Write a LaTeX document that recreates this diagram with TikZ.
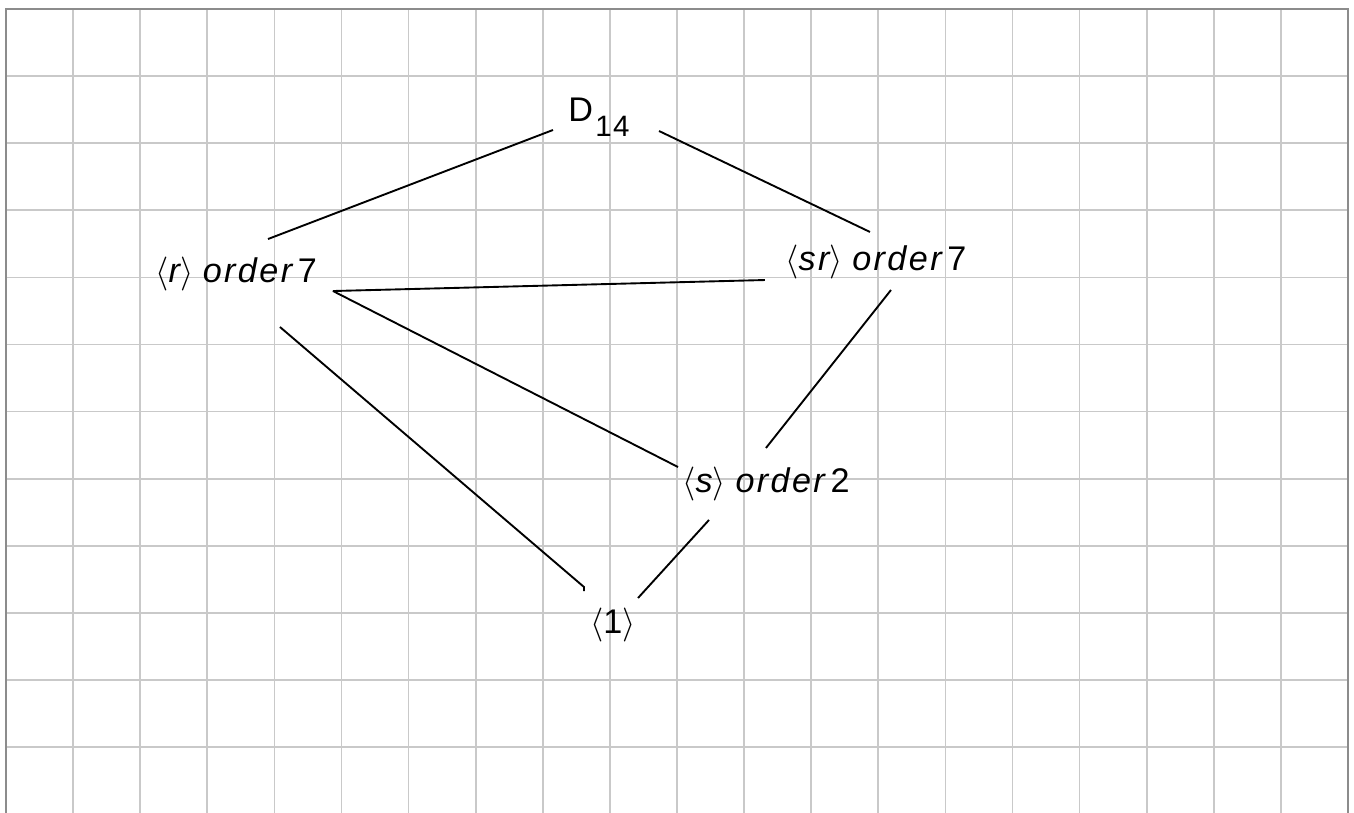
\documentclass[tikz,border=0pt]{standalone}
\usepackage{fontspec}
\setmainfont{Liberation Sans}
\newfontfamily\spacedsans{Liberation Sans}[LetterSpace=7]
\usetikzlibrary{calc}
\tikzset{>=latex}
\tikzstyle{edge} = [line width = 0.8, color = black]
\tikzstyle{gridline} = [line width = 0.75, color = black!21]
\tikzstyle{frame} = [line width = 1.0, color = black!45]
\tikzstyle{label} = [%
					anchor = base west,
					inner sep = 0pt,
					font = \fontsize{14.5}{17}\selectfont]
\newcommand{\gen}[1]{$\langle${\spacedsans\itshape #1}$\rangle$}
\newcommand{\ord}[1]{{\spacedsans\itshape order}\,#1}

\begin{document}
\begin{tikzpicture}
	\useasboundingbox (-0.0894,-11.982) rectangle (20.0896,0.134);
	
	% Grid
	\draw[gridline] (0,-11.982) grid (20,0);
	\draw[frame] (0,-11.982) -- (0,0) -- (20,0) -- (20,-11.982);
	
	% Coordinates
	\coordinate (Dl)  at (8.152,-1.803);
	\coordinate (Dr)  at (9.732,-1.818);
	\coordinate (Ru)  at (3.905,-3.428);
	\coordinate (Rr)  at (4.873,-4.203);
	\coordinate (Rd)  at (4.083,-4.739);
	\coordinate (SRu) at (12.876,-3.323);
	\coordinate (SRl) at (11.311,-4.039);
	\coordinate (SRd) at (13.189,-4.188);
	\coordinate (Sl)  at (10.015,-6.826);
	\coordinate (Su)  at (11.326,-6.542);
	\coordinate (Sd)  at (10.477,-7.615);
	\coordinate (Ol)  at (8.614,-8.614);
	\coordinate (Or)  at (9.419,-8.778);
	
	% Nodes
	\node[label] (d14) at (8.375,-1.684) {D\raisebox{-6pt}{\fontsize{12.5}{15}\selectfont\kern1pt 1\kern0.5pt4}};
	\node[label] (r)   at (2.221,-4.083) {\gen{r}\ \ord{7}};
	\node[label] (sr)  at (11.610,-3.890) {\gen{sr}\ \ord{7}};
	\node[label] (s)   at (10.075,-7.213) {\gen{s}\ \ord{2}};
	\node[label] (one) at (8.700,-9.300) {$\langle$1$\rangle$};
	
	% Lattice
	\draw[edge] (Dl) -- (Ru);
	\draw[edge] (Dr) -- (SRu);
	\draw[edge] (Rr) -- (SRl);
	\draw[edge] (Rr) -- (Sl);
	\draw[edge] (Rd) -- (Ol) -- ++(0,-0.06);
	\draw[edge] (SRd) -- (Su);
	\draw[edge] (Sd) -- (Or);
\end{tikzpicture}
\end{document}
